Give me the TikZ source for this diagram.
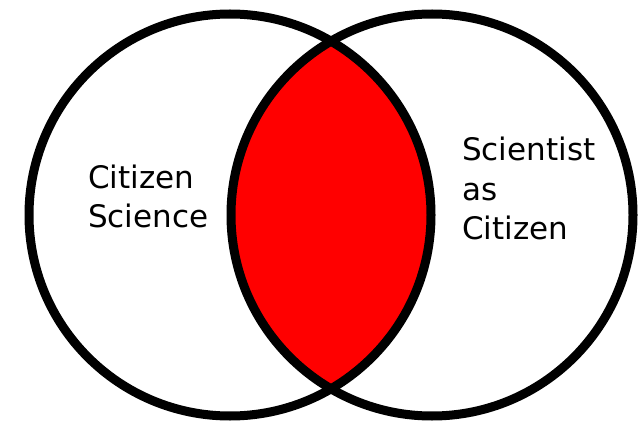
\documentclass[tikz,border=0pt]{standalone}
\usepackage{fontspec}
\setmainfont{DejaVu Sans}
\tikzset{
	ring/.style={draw, circle, line width=9pt, minimum size=402pt, inner sep=0pt},
	vtext/.style={anchor=base west, align=left, inner sep=0pt, font=\fontsize{31}{39}\selectfont}
}
\begin{document}
\begin{tikzpicture}[x=1pt,y=-1pt]
	\fill[white] (0,0) rectangle (642,422);
	\useasboundingbox (0,0) rectangle (642,422);

	\begin{scope}
		\clip (230,215) circle (201);
		\fill[red] (432,215) circle (201);
	\end{scope}

	\node[ring]		(0)	at (230,215)	{};
	\node[ring]		(1)	at (432,215)	{};

	\node[vtext]	(2)	at (88,227)		{Citizen\\Science};
	\node[vtext]	(3)	at (462,239)	{Scientist\\as\\Citizen};
\end{tikzpicture}
\end{document}
